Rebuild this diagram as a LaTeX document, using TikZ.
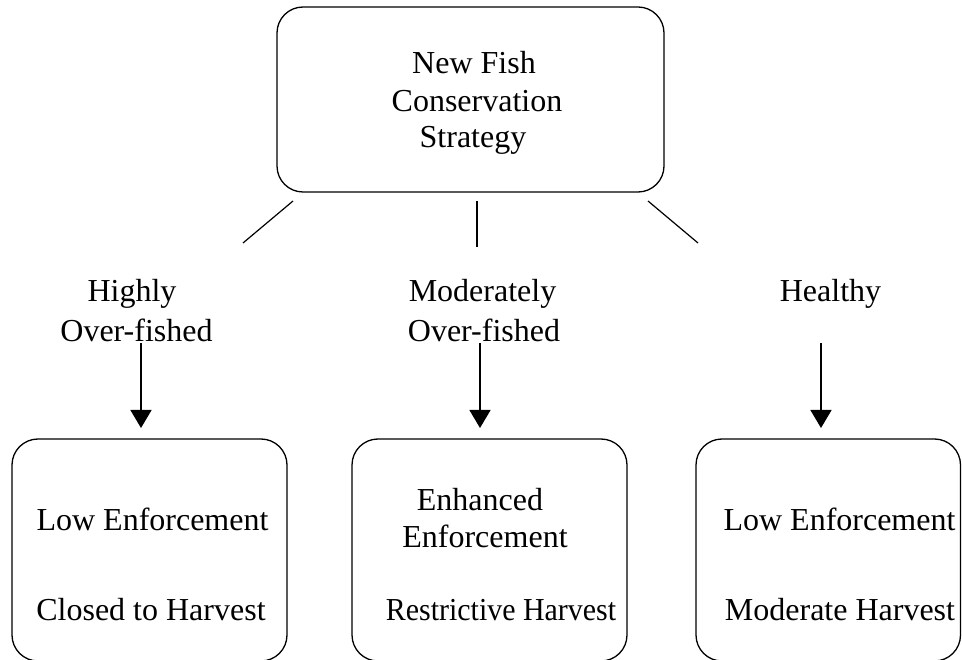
\documentclass[tikz,border=0pt]{standalone}
\usepackage{fontspec}
\setmainfont{Liberation Serif}
\usetikzlibrary{arrows.meta}
\begin{document}
\begin{tikzpicture}[x=1pt,y=-1pt,
  box/.style={draw=black, line width=1.3pt, rounded corners=26pt},
  txt/.style={anchor=base, inner sep=0pt, font=\fontsize{32}{37}\selectfont},
  link/.style={draw=black, line width=1.2pt},
  arr/.style={draw=black, line width=1.4pt, -{Triangle[width=21pt,length=18pt]}}]
\useasboundingbox (0,0) rectangle (962,660);
\fill[white] (0,0) rectangle (962,660);
% top box
\draw[box] (277,7) rectangle (664,192);
\node[txt] (t1) at (474,74) {New Fish};
\node[txt] (t2) at (477,112) {Conservation};
\node[txt] (t3) at (473,148) {Strategy};
% branch lines
\coordinate (l1a) at (293,201); \coordinate (l1b) at (243,243);
\coordinate (l2a) at (477,201); \coordinate (l2b) at (477,247);
\coordinate (l3a) at (648,201); \coordinate (l3b) at (698,243);
\draw[link] (l1a) -- (l1b);
\draw[link] (l2a) -- (l2b);
\draw[link] (l3a) -- (l3b);
% category labels
\node[txt] (h1) at (132,302) {Highly};
\node[txt] (h2) at (136.5,342) {Over-fished};
\node[txt] (m1) at (482.5,302) {Moderately};
\node[txt] (m2) at (484,342) {Over-fished};
\node[txt] (hl) at (830.5,302) {Healthy};
% arrows
\coordinate (a1s) at (141,343); \coordinate (a1e) at (141,428);
\coordinate (a2s) at (480,343); \coordinate (a2e) at (480,428);
\coordinate (a3s) at (821,343); \coordinate (a3e) at (821,428);
\draw[arr] (a1s) -- (a1e);
\draw[arr] (a2s) -- (a2e);
\draw[arr] (a3s) -- (a3e);
% bottom boxes
\draw[box] (12,439) rectangle (287,661);
\draw[box] (352,439) rectangle (627,661);
\draw[box] (696,439) rectangle (960.5,661);
% bottom texts
\node[txt] (b1a) at (152.5,530) {Low Enforcement};
\node[txt] (b1b) at (151,620) {Closed to Harvest};
\node[txt] (b2a) at (480,510) {Enhanced};
\node[txt] (b2b) at (485,547) {Enforcement};
\node[txt] (b2c) at (501,620) {\scalebox{0.935}[1]{Restrictive Harvest}};
\node[txt] (b3a) at (839.5,530) {Low Enforcement};
\node[txt] (b3b) at (840,620) {Moderate Harvest};
\end{tikzpicture}
\end{document}
